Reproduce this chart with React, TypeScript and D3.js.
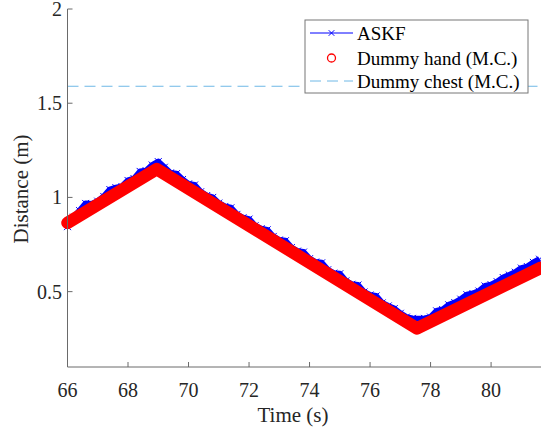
import React from "react";
import * as d3 from "d3";

const handT = [66.0, 68.95, 77.55, 81.65];
const handD = [0.865, 1.15, 0.305, 0.627];

// ASKF estimate, read every 0.2 s
const askfT = [
  66.0, 66.2, 66.4, 66.6, 66.8, 67.0, 67.2, 67.4, 67.6, 67.8, 68.0, 68.2, 68.4, 68.6, 68.8,
  69.0, 69.2, 69.4, 69.6, 69.8, 70.0, 70.2, 70.4, 70.6, 70.8, 71.0, 71.2, 71.4, 71.6, 71.8,
  72.0, 72.2, 72.4, 72.6, 72.8, 73.0, 73.2, 73.4, 73.6, 73.8, 74.0, 74.2, 74.4, 74.6, 74.8,
  75.0, 75.2, 75.4, 75.6, 75.8, 76.0, 76.2, 76.4, 76.6, 76.8, 77.0, 77.2, 77.4, 77.6, 77.8,
  78.0, 78.2, 78.4, 78.6, 78.8, 79.0, 79.2, 79.4, 79.6, 79.8, 80.0, 80.2, 80.4, 80.6, 80.8,
  81.0, 81.2, 81.4, 81.6,
];
const askfD = [
  0.845, 0.895, 0.93, 0.968, 0.965, 0.98, 1.005, 1.042, 1.052, 1.058, 1.09, 1.1, 1.138, 1.142, 1.172,
  1.19, 1.16, 1.13, 1.126, 1.095, 1.072, 1.066, 1.03, 1.01, 1.0, 0.97, 0.952, 0.945, 0.91, 0.892,
  0.885, 0.85, 0.834, 0.828, 0.793, 0.774, 0.77, 0.734, 0.715, 0.71, 0.675, 0.657, 0.653, 0.616, 0.598,
  0.595, 0.557, 0.539, 0.535, 0.498, 0.482, 0.477, 0.44, 0.424, 0.41, 0.385, 0.365, 0.358, 0.356, 0.358,
  0.365, 0.398, 0.405, 0.43, 0.442, 0.46, 0.484, 0.49, 0.503, 0.53, 0.537, 0.553, 0.575, 0.588, 0.603,
  0.625, 0.633, 0.655, 0.672,
];

// Dummy chest (M.C.) constant level
const chestD = 1.59;

const xTicks = [66, 68, 70, 72, 74, 76, 78, 80];
const yTicks = [0.5, 1, 1.5, 2];
const legendLabels = ["ASKF", "Dummy hand (M.C.)", "Dummy chest (M.C.)"];

const W = 541;
const H = 434;
const FONT = '"Liberation Serif", "DejaVu Serif", serif';
const AX = "#262626";
const txt = { fontFamily: FONT };

export default function App() {
  const x = d3.scaleLinear().domain([66, 81.65]).range([67.5, 541]);
  const y = d3.scaleLinear().domain([0.1, 2]).range([367, 9]);

  const handLine = d3
    .line<number>()
    .x((_, i) => x(handT[i]))
    .y((d) => y(d));
  const askfLine = d3
    .line<number>()
    .x((_, i) => x(askfT[i]))
    .y((d) => y(d));

  const x0 = x.range()[0];
  const x1 = x.range()[1];
  const yb = y(0.1);
  const yt = y(2);
  const ms = 3.5;

  const legX = 305;
  const legY = 20;
  const legW = 223;
  const legH = 73;
  const rowY = [33, 58, 81];

  return (
    <svg width={W} height={H} style={{ position: "absolute", left: 0, top: 0, background: "#fff" }}>
      <rect x={0} y={0} width={W} height={H} fill="#fff" />

      {/* ASKF */}
      <path d={askfLine(askfD) || ""} fill="none" stroke="#0000ff" strokeWidth={6} strokeLinejoin="round" />
      {askfD.map((d, i) => {
        const cx = x(askfT[i]);
        const cy = y(d);
        return (
          <path
            key={i}
            d={`M${cx - ms},${cy - ms}L${cx + ms},${cy + ms}M${cx - ms},${cy + ms}L${cx + ms},${cy - ms}`}
            stroke="#0000ff"
            strokeWidth={1}
          />
        );
      })}

      {/* Dummy hand */}
      <path
        d={handLine(handD) || ""}
        fill="none"
        stroke="#ff0000"
        strokeWidth={12.5}
        strokeLinejoin="round"
        strokeLinecap="round"
      />

      {/* Dummy chest */}
      <line x1={x0} x2={x1} y1={y(chestD)} y2={y(chestD)} stroke="#6fb8e6" strokeWidth={1} strokeDasharray="11,6" />

      {/* Axes */}
      <line x1={x0} x2={x0} y1={yt} y2={yb} stroke="#6a6a6a" strokeWidth={1} />
      <line x1={x0} x2={x1} y1={yb} y2={yb} stroke="#6a6a6a" strokeWidth={1} />
      {xTicks.map((t) => (
        <g key={t}>
          <line x1={x(t)} x2={x(t)} y1={yb} y2={yb - 5} stroke="#6a6a6a" strokeWidth={1} />
          <text x={x(t)} y={397} textAnchor="middle" fontSize={20} fill={AX} style={txt}>
            {t}
          </text>
        </g>
      ))}
      {yTicks.map((t) => (
        <g key={t}>
          <line x1={x0} x2={x0 + 5} y1={y(t)} y2={y(t)} stroke="#6a6a6a" strokeWidth={1} />
          <text x={62} y={y(t) + 7} textAnchor="end" fontSize={20} fill={AX} style={txt}>
            {t}
          </text>
        </g>
      ))}
      <text x={293} y={422} textAnchor="middle" fontSize={21} fill={AX} style={txt}>
        Time (s)
      </text>
      <text
        transform={`translate(28,189) rotate(-90)`}
        textAnchor="middle"
        fontSize={21}
        fill={AX}
        style={txt}
      >
        Distance (m)
      </text>

      {/* Legend */}
      <rect x={legX} y={legY} width={legW} height={legH} fill="#fff" stroke="#777" strokeWidth={1} />
      <line x1={310} x2={353} y1={rowY[0]} y2={rowY[0]} stroke="#0000ff" strokeWidth={1} />
      <path
        d={`M${331.5 - 2.8},${rowY[0] - 2.8}L${331.5 + 2.8},${rowY[0] + 2.8}M${331.5 - 2.8},${rowY[0] + 2.8}L${331.5 + 2.8},${rowY[0] - 2.8}`}
        stroke="#0000ff"
        strokeWidth={1}
      />
      <circle cx={331.5} cy={rowY[1]} r={4} fill="none" stroke="#ff0000" strokeWidth={1.3} />
      <line x1={310} x2={353} y1={rowY[2]} y2={rowY[2]} stroke="#6fb8e6" strokeWidth={1} strokeDasharray="11,6" />
      {legendLabels.map((l, i) => (
        <text key={l} x={357} y={rowY[i] + 6.5} fontSize={19} fill="#000" style={txt}>
          {l}
        </text>
      ))}
    </svg>
  );
}
